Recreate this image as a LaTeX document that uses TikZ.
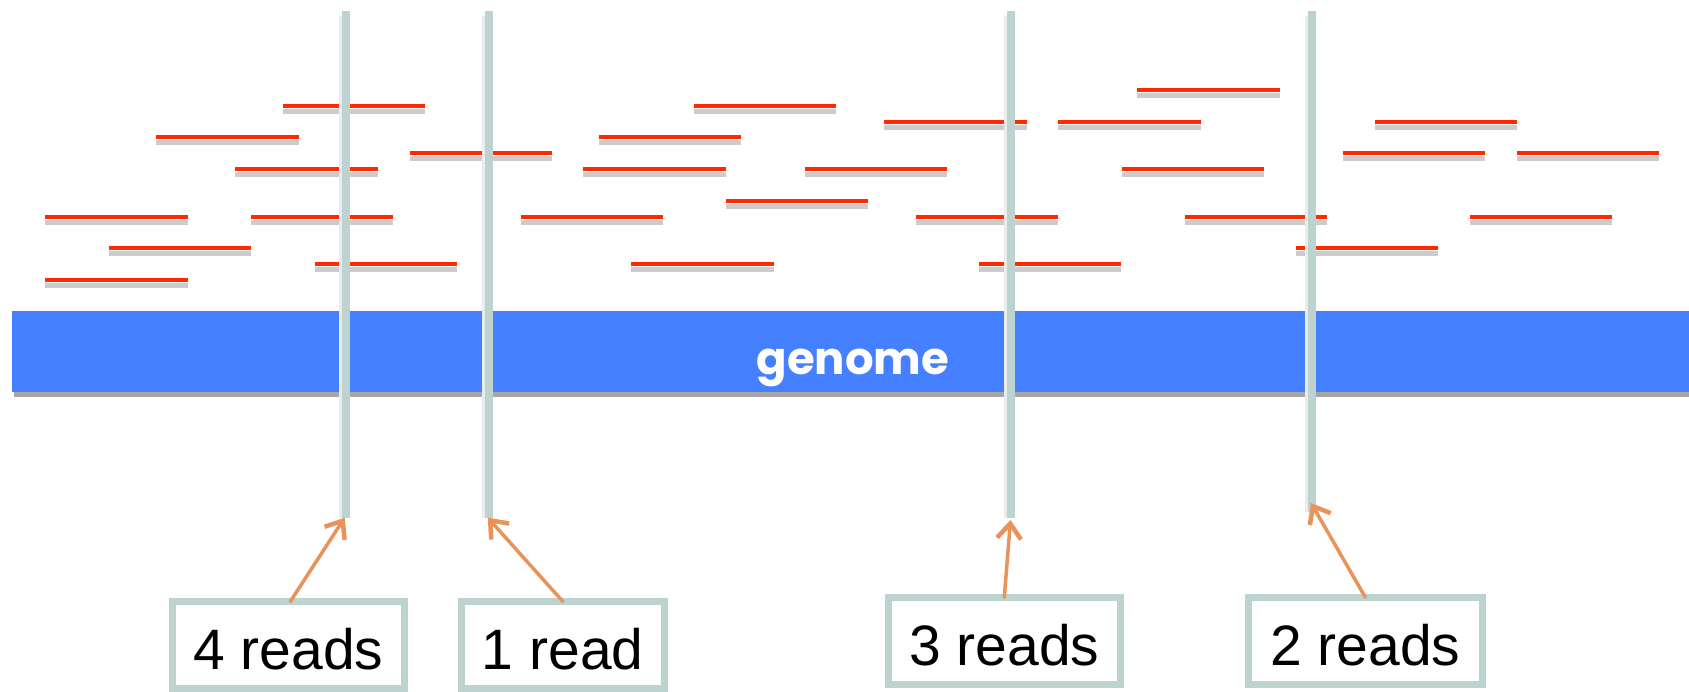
\documentclass[tikz,border=0pt]{standalone}
\usepackage{fontspec}
\setmainfont{Liberation Sans}
\newfontfamily\genomefont{Poppins}
\usetikzlibrary{arrows.meta}
\definecolor{genblue}{RGB}{68,128,255}
\definecolor{probegray}{RGB}{188,211,208}
\definecolor{readred}{RGB}{255,42,0}
\definecolor{arroworange}{RGB}{232,147,90}
\begin{document}
\begin{tikzpicture}[x=1pt,y=-1pt,
  readline/.style={draw=readred, line width=4pt},
  readshadow/.style={draw=black!20, line width=5pt},
  probe/.style={draw=probegray, line width=8pt},
  probeshadow/.style={draw=black!8, line width=10pt},
  countbox/.style={draw=probegray, line width=7pt, fill=white, rectangle, inner sep=0pt, outer sep=0pt,
    minimum height=87pt, text height=49pt, text depth=0pt, font=\fontsize{57}{62}\selectfont},
  pointer/.style={draw=arroworange, line width=3.5pt,
    -{Straight Barb[length=15pt,width=24pt,line width=4.5pt]},
    line cap=round, line join=round}]

\useasboundingbox (0,0) rectangle (1689,692);
\fill[white] (0,0) rectangle (1689,692);

% reads
\foreach \x/\y in {282.8/105.7, 156.1/137.3, 409.5/153.3, 235.4/169, 45.2/216.7, 251/216.7,
  108.7/248, 314.6/264, 45.2/279.7, 693.9/105.7, 599/137.3, 884.1/121.7, 1058.2/121.7,
  583.3/169, 804.9/169, 726/200.7, 520.5/216.7, 915.9/216.7, 631.1/264, 979/264,
  1137.2/90, 1375/121.7, 1121.8/169, 1343/153.3, 1517/153.3, 1184.9/216.7, 1470/216.7, 1295.7/248} {
  \draw[readshadow] (\x,\y+5.5) -- ++(142.4,0);
  \draw[readline] (\x,\y) -- ++(142.4,0);
}

% genome bar
\fill[black!35] (14,391) rectangle (1689,397);
\node[fill=genblue, minimum width=1677pt, minimum height=81pt, inner sep=0pt, outer sep=0pt,
  anchor=north west] (genome) at (12,310.7) {};
\node[anchor=base, text=white, inner sep=0pt,
  font=\genomefont\bfseries\fontsize{45}{48}\selectfont] (genomelabel) at (853,375) {genome};

% probes
\coordinate (p1top) at (346,11);    \coordinate (p1bot) at (346,518);
\coordinate (p2top) at (488.6,11);  \coordinate (p2bot) at (488.6,518);
\coordinate (p3top) at (1010.6,11); \coordinate (p3bot) at (1010.6,518);
\coordinate (p4top) at (1311.5,11); \coordinate (p4bot) at (1311.5,512);
\foreach \p in {1,2,3,4} {
  \draw[probeshadow] ([xshift=-2pt,yshift=-5pt]p\p top) -- ([xshift=-2pt]p\p bot);
  \draw[probe] (p\p top) -- (p\p bot);
}

% tips
\coordinate (tip1) at (344.7,517.7);
\coordinate (tip2) at (487.8,517.7);
\coordinate (tip3) at (1010.5,520);
\coordinate (tip4) at (1311,503);

% count boxes
\node[countbox, minimum width=231.5pt] (b1) at (288.3,645) {4 reads};
\node[countbox, minimum width=202.5pt] (b2) at (562.8,645) {1 read};
\node[countbox, minimum width=232.5pt] (b3) at (1004.3,640.8) {3 reads};
\node[countbox, minimum width=233.5pt] (b4) at (1365.3,640.8) {2 reads};

% pointers
\draw[pointer] ([xshift=2pt]b1.north) -- (tip1);
\draw[pointer] (b2.north) -- (tip2);
\draw[pointer] (b3.north) -- (tip3);
\draw[pointer] (b4.north) -- (tip4);
\end{tikzpicture}
\end{document}
